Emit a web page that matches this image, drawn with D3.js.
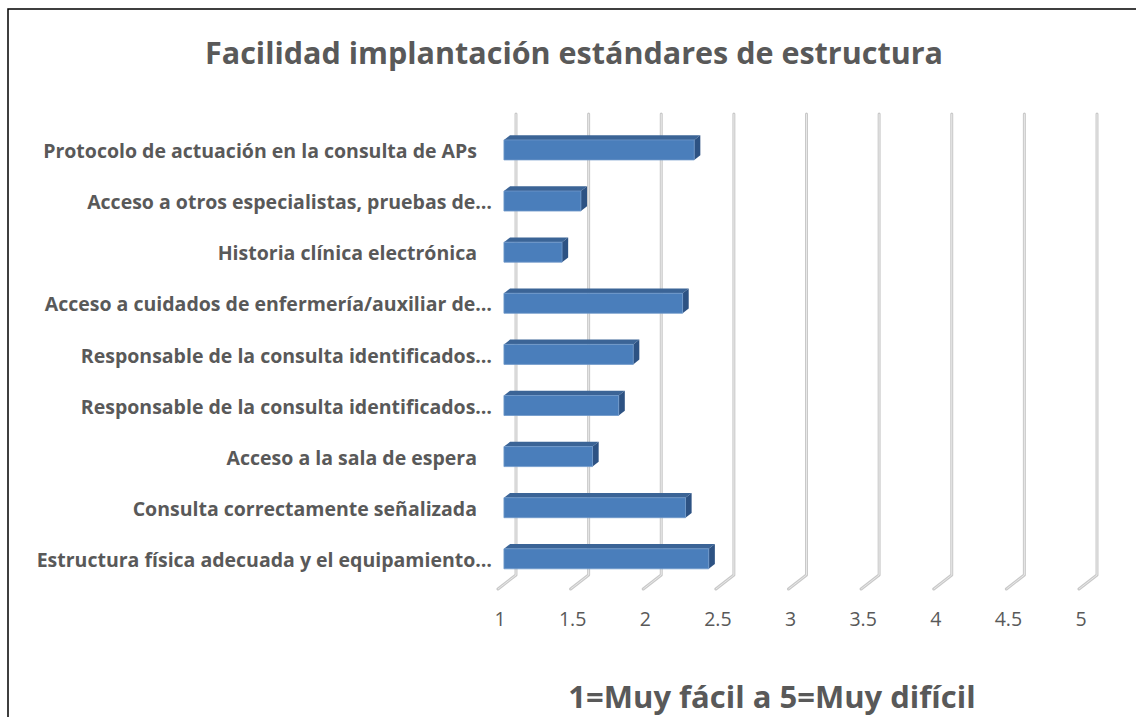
<!DOCTYPE html>
<html>
<head>
<meta charset="utf-8">
<script src="https://cdn.jsdelivr.net/npm/d3@7"></script>
<style>
  body { margin: 0; background: #fff; }
  svg { display: block; }
</style>
</head>
<body>
<div id="chart"></div>
<script>
const width = 1136;
const height = 717;

// data (top to bottom as shown)
const categories = [
  "Protocolo de actuación en la consulta de APs ",
  "Acceso a otros especialistas, pruebas de…",
  "Historia clínica electrónica ",
  "Acceso a cuidados de enfermería/auxiliar de…",
  "Responsable de la consulta identificados…",
  "Responsable de la consulta identificados…",
  "Acceso a la sala de espera ",
  "Consulta correctamente señalizada ",
  "Estructura física adecuada y el equipamiento…"
];
const values = [2.31, 1.53, 1.40, 2.23, 1.89, 1.79, 1.61, 2.25, 2.41];
const tickValues = [1, 1.5, 2, 2.5, 3, 3.5, 4, 4.5, 5];

const titleText = "Facilidad implantación estándares de estructura";
const axisTitleText = "1=Muy fácil a 5=Muy difícil";

const textColor = "#595959";
const font = "'Open Sans', Lato, sans-serif";

// 3D depth offset: point at depth f (0 = back wall, 1 = front)
const depthX = -18, depthY = 14;
const proj = (x, y, f) => [x + depthX * f, y + depthY * f];

const svg = d3.select("#chart").append("svg")
  .attr("width", width)
  .attr("height", height);

// outer border (runs off the right and bottom edges)
svg.append("rect")
  .attr("x", 8).attr("y", 9)
  .attr("width", 1300).attr("height", 900)
  .attr("fill", "#fff")
  .attr("stroke", "#000")
  .attr("stroke-width", 1.5);

// scales on the back wall (rows by index: two labels are identical)
const rows = categories.map((c, i) => ({ i, c, v: values[i] }));
const x = d3.scaleLinear().domain([1, 5]).range([516, 1097]);
const y = d3.scaleBand().domain(d3.range(categories.length)).range([115, 575]);
const yMid = i => y(i) + y.bandwidth() / 2;

// gridlines: vertical on back wall, then diagonal across the floor
const grid = svg.append("g");
const gridPath = v => {
  const gx = x(v);
  const [fx, fy] = proj(gx, 575, 1);
  return `M${gx},114 L${gx},575 L${fx},${fy}`;
};
grid.selectAll("path.outer")
  .data(tickValues)
  .join("path")
  .attr("class", "outer")
  .attr("d", gridPath)
  .attr("fill", "none")
  .attr("stroke", "#c9c9c9")
  .attr("stroke-width", 3)
  .attr("stroke-linecap", "round")
  .attr("stroke-linejoin", "round");
grid.selectAll("path.inner")
  .data(tickValues)
  .join("path")
  .attr("class", "inner")
  .attr("d", gridPath)
  .attr("fill", "none")
  .attr("stroke", "#e8e8e8")
  .attr("stroke-width", 1)
  .attr("stroke-linejoin", "round");

// bars (3D): top face, right side, front face
const barH = 20;
const fBack = 0.33, fFront = 0.67;
const bars = svg.append("g")
  .selectAll("g")
  .data(rows)
  .join("g");

const poly = pts => "M" + pts.map(p => p.join(",")).join("L") + "Z";

bars.append("path") // top face
  .attr("d", d => {
    const y0 = yMid(d.i) - barH / 2;
    return poly([proj(x(1), y0, fBack), proj(x(d.v), y0, fBack),
                 proj(x(d.v), y0, fFront), proj(x(1), y0, fFront)]);
  })
  .attr("fill", "#3b6496");

bars.append("path") // right side
  .attr("d", d => {
    const y0 = yMid(d.i) - barH / 2;
    return poly([proj(x(d.v), y0, fBack), proj(x(d.v), y0 + barH, fBack),
                 proj(x(d.v), y0 + barH, fFront), proj(x(d.v), y0, fFront)]);
  })
  .attr("fill", "#2d5283");

bars.append("path") // front face
  .attr("d", d => {
    const y0 = yMid(d.i) - barH / 2;
    return poly([proj(x(1), y0, fFront), proj(x(d.v), y0, fFront),
                 proj(x(d.v), y0 + barH, fFront), proj(x(1), y0 + barH, fFront)]);
  })
  .attr("fill", "#4a7ebb")
  .attr("stroke", "#6f98c9")
  .attr("stroke-width", 0.8);

// category labels (a trailing space leaves a visible gap before the axis)
svg.append("g")
  .selectAll("text")
  .data(rows)
  .join("text")
  .attr("x", d => d.c.endsWith(" ") ? 477 : 492)
  .attr("y", d => yMid(d.i) + 17.5)
  .attr("text-anchor", "end")
  .attr("font-family", font)
  .attr("font-weight", "bold")
  .attr("font-size", 19.5)
  .attr("fill", textColor)
  .text(d => d.c.trim());

// tick labels at the front edge of the floor
svg.append("g")
  .selectAll("text")
  .data(tickValues)
  .join("text")
  .attr("x", d => proj(x(d), 575, 1)[0] + 2)
  .attr("y", 626)
  .attr("text-anchor", "middle")
  .attr("font-family", font)
  .attr("font-size", 19.5)
  .attr("fill", textColor)
  .text(d => d);

// title
svg.append("text")
  .attr("x", 574)
  .attr("y", 64)
  .attr("text-anchor", "middle")
  .attr("font-family", font)
  .attr("font-weight", "bold")
  .attr("font-size", 30.5)
  .attr("fill", textColor)
  .text(titleText);

// axis title
svg.append("text")
  .attr("x", 772)
  .attr("y", 708)
  .attr("text-anchor", "middle")
  .attr("font-family", font)
  .attr("font-weight", "bold")
  .attr("font-size", 31)
  .attr("fill", textColor)
  .text(axisTitleText);
</script>
</body>
</html>
